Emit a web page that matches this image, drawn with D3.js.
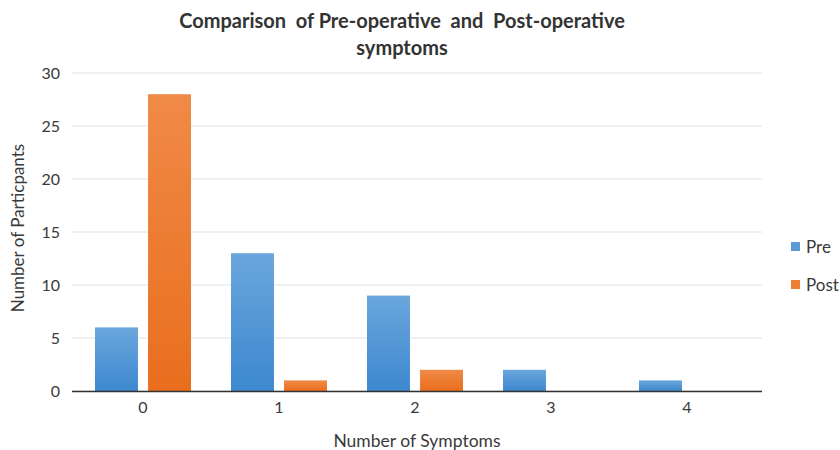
<!DOCTYPE html>
<html><head><meta charset="utf-8">
<script src="https://cdn.jsdelivr.net/npm/d3@7"></script>
<style>body{margin:0;background:#fff}svg{display:block}</style>
</head><body>
<script>
const categories = ["0","1","2","3","4"];
const seriesNames = ["Pre","Post"];
const preValues = [6,13,9,2,1];
const postValues = [28,1,2,0,0];
const yTicks = [0,5,10,15,20,25,30];

const W=840,H=450;
const svg=d3.select("body").append("svg").attr("width",W).attr("height",H);
const font="Lato, 'Open Sans', sans-serif";
const defs=svg.append("defs");
const gB=defs.append("linearGradient").attr("id","gB").attr("x1",0).attr("x2",0).attr("y1",0).attr("y2",1);
gB.append("stop").attr("offset","0%").attr("stop-color","#6aa6dc");
gB.append("stop").attr("offset","100%").attr("stop-color","#3d88cf");
const gO=defs.append("linearGradient").attr("id","gO").attr("x1",0).attr("x2",0).attr("y1",0).attr("y2",1);
gO.append("stop").attr("offset","0%").attr("stop-color","#f08a47");
gO.append("stop").attr("offset","100%").attr("stop-color","#e96e1e");

const x=d3.scaleBand().domain(categories).range([75,755]);
const y=d3.scaleLinear().domain([0,30]).range([391,73]);
const xs=d3.scaleBand().domain(seriesNames).range([20,116]).paddingInner(0.19).paddingOuter(0);

// gridlines
svg.append("g").selectAll("line").data(yTicks).join("line")
 .attr("x1",72).attr("x2",762).attr("y1",d=>y(d)).attr("y2",d=>y(d))
 .attr("stroke","#e2e2e2").attr("stroke-width",1);

const yAxis=svg.append("g").attr("transform","translate(70,0)")
 .call(d3.axisLeft(y).tickValues(yTicks).tickSize(0).tickPadding(10));
yAxis.select(".domain").remove();
yAxis.selectAll("text").attr("font-family",font).attr("font-size",16).attr("fill","#3a3a3a");

const series=[{name:"Pre",vals:preValues,fill:"url(#gB)"},{name:"Post",vals:postValues,fill:"url(#gO)"}];
series.forEach(s=>{
  svg.append("g").selectAll("rect").data(categories.map((c,i)=>({c,v:s.vals[i]})).filter(d=>d.v>0)).join("rect")
   .attr("x",d=>x(d.c)+xs(s.name)).attr("width",xs.bandwidth())
   .attr("y",d=>y(d.v)).attr("height",d=>y(0)-y(d.v))
   .attr("fill",s.fill);
});

const xAxis=svg.append("g").attr("transform","translate(0,391)")
 .call(d3.axisBottom(x).tickSize(0).tickPadding(11));
xAxis.select(".domain").attr("d","M72,0.5H762").attr("stroke","#333").attr("stroke-width",1.3);
xAxis.selectAll("text").attr("font-family",font).attr("font-size",16).attr("fill","#3a3a3a");

svg.append("text").attr("x",417).attr("y",447).attr("text-anchor","middle")
 .attr("font-family",font).attr("font-size",17.5).attr("fill","#3a3a3a").text("Number of Symptoms");
svg.append("text").attr("transform","translate(24,228) rotate(-90)").attr("text-anchor","middle")
 .attr("font-family",font).attr("font-size",17).attr("fill","#3a3a3a").text("Number of Particpants");

const title=svg.append("text").attr("text-anchor","middle").attr("font-family",font)
 .attr("font-size",20).attr("font-weight","bold").attr("fill","#333");
title.append("tspan").attr("x",402).attr("y",28).attr("xml:space","preserve").text("Comparison  of Pre-operative  and  Post-operative");
title.append("tspan").attr("x",402).attr("y",55).text("symptoms");

const leg=svg.append("g");
series.forEach((s,i)=>{
  const ly=247+i*38;
  leg.append("rect").attr("x",791).attr("y",ly-5).attr("width",9).attr("height",9).attr("fill",i?"#ed7d31":"#5b9bd5");
  leg.append("text").attr("x",806).attr("y",ly+6).attr("font-family",font).attr("font-size",17).attr("fill","#3a3a3a").text(s.name);
});
</script>
</body></html>
